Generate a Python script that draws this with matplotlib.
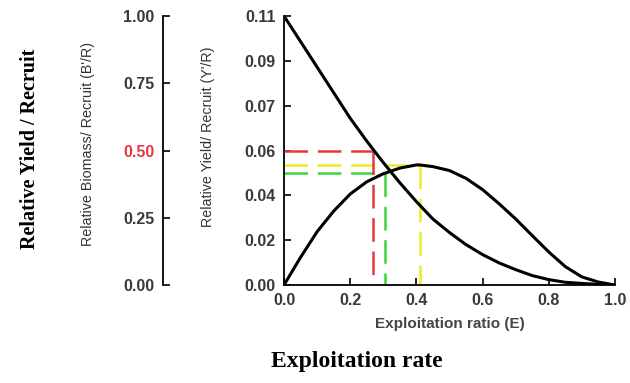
import matplotlib
matplotlib.use('Agg')
import matplotlib.pyplot as plt
import numpy as np

# values
E = [0.0, 0.05, 0.1, 0.15, 0.2, 0.25, 0.3, 0.35, 0.4, 0.41, 0.45, 0.5,
     0.55, 0.6, 0.65, 0.7, 0.75, 0.8, 0.85, 0.9, 0.95, 1.0]
br = [1.0, 0.905, 0.81, 0.715, 0.62, 0.535, 0.455, 0.38, 0.31, 0.297, 0.245, 0.195,
      0.15, 0.113, 0.082, 0.057, 0.035, 0.02, 0.01, 0.006, 0.002, 0.0]  # B'/R
yr = [0.0, 0.0113, 0.0218, 0.0302, 0.0372, 0.0422, 0.0455, 0.0478, 0.0491, 0.0491, 0.0484, 0.0468,
      0.0436, 0.039, 0.0332, 0.027, 0.0202, 0.0135, 0.0075, 0.0033, 0.0012, 0.0]  # Y'/R

E50, br50 = 0.27, 0.5        # red
E10, yr10 = 0.305, 0.0457    # green
Emax, yrmax = 0.41, 0.0491   # yellow

x_ticks = [0.0, 0.2, 0.4, 0.6, 0.8, 1.0]
yr_ticks = list(np.linspace(0, 0.11, 7))
br_ticks = [0.0, 0.25, 0.5, 0.75, 1.0]

W, H = 630, 383
plt.rcParams['font.family'] = 'Liberation Sans'
plt.rcParams['lines.scale_dashes'] = False
tick_col = '#3a3a3a'

fig = plt.figure(figsize=(W / 100, H / 100), dpi=100)
ax = fig.add_axes([284 / W, 1 - 285 / H, 331 / W, 269 / H])
ax2 = ax.twinx()

# Y'/R on the main axis, B'/R on the offset left axis
ax.set_xlim(0, 1)
ax.set_ylim(0, 0.11)
ax2.set_ylim(0, 1)

dash = (17, 7)
red, yel, grn = '#e8383d', '#ecec2a', '#3ad53a'
ax2.plot([0, E50], [br50, br50], color=red, lw=1.8, dashes=dash)
ax2.plot([E50, E50], [br50, 0], color=red, lw=1.8, dashes=dash)
ax.plot([0, Emax], [yrmax, yrmax], color=yel, lw=1.8, dashes=dash)
ax.plot([Emax, Emax], [yrmax, 0], color=yel, lw=1.8, dashes=dash)
ax.plot([0, E10], [yr10, yr10], color=grn, lw=1.8, dashes=dash)
ax.plot([E10, E10], [yr10, 0], color=grn, lw=1.8, dashes=dash)

ax.plot(E, yr, color='black', lw=2.2, zorder=5)
ax2.plot(E, br, color='black', lw=2.2, zorder=5)

for s in ['top', 'right']:
    ax.spines[s].set_visible(False)
for s in ['top', 'right', 'bottom']:
    ax2.spines[s].set_visible(False)
ax2.spines['left'].set_visible(True)
ax2.spines['left'].set_position(('axes', -121 / 331))
ax2.yaxis.set_ticks_position('left')
for sp in [ax.spines['left'], ax.spines['bottom'], ax2.spines['left']]:
    sp.set_linewidth(1.3)

ax.set_xticks(x_ticks)
ax.set_xticklabels(['%.1f' % v for v in x_ticks])
ax.set_yticks(yr_ticks)
ax.set_yticklabels(['%.2f' % v for v in yr_ticks])
ax2.set_yticks(br_ticks)
ax2.set_yticklabels(['%.2f' % v for v in br_ticks])

for a in [ax, ax2]:
    a.tick_params(direction='in', length=5, width=1.2, pad=6,
                  labelsize=11.5, labelcolor=tick_col)
    for lab in a.get_xticklabels() + a.get_yticklabels():
        lab.set_fontweight('bold')
ax2.get_yticklabels()[2].set_color(red)

ax.set_xlabel('Exploitation ratio (E)', fontsize=11, fontweight='bold',
              color='#454545', labelpad=6)

fig.text(208 / W, 1 - 137 / H, "Relative Yield/ Recruit (Y'/R)", rotation=90,
         ha='center', va='center', fontsize=10.3, color='#333333')
fig.text(88 / W, 1 - 144 / H, "Relative Biomass/ Recruit (B'/R)", rotation=90,
         ha='center', va='center', fontsize=10.3, color='#333333')
fig.text(30 / W, 1 - 149 / H, 'Relative Yield / Recruit', rotation=90,
         ha='center', va='center', fontsize=14.5, fontweight='bold',
         family='Liberation Serif')
fig.text(357 / W, 1 - 362 / H, 'Exploitation rate', ha='center', va='center',
         fontsize=17, fontweight='bold', family='Liberation Serif')

fig.savefig('out.png', dpi=100)
